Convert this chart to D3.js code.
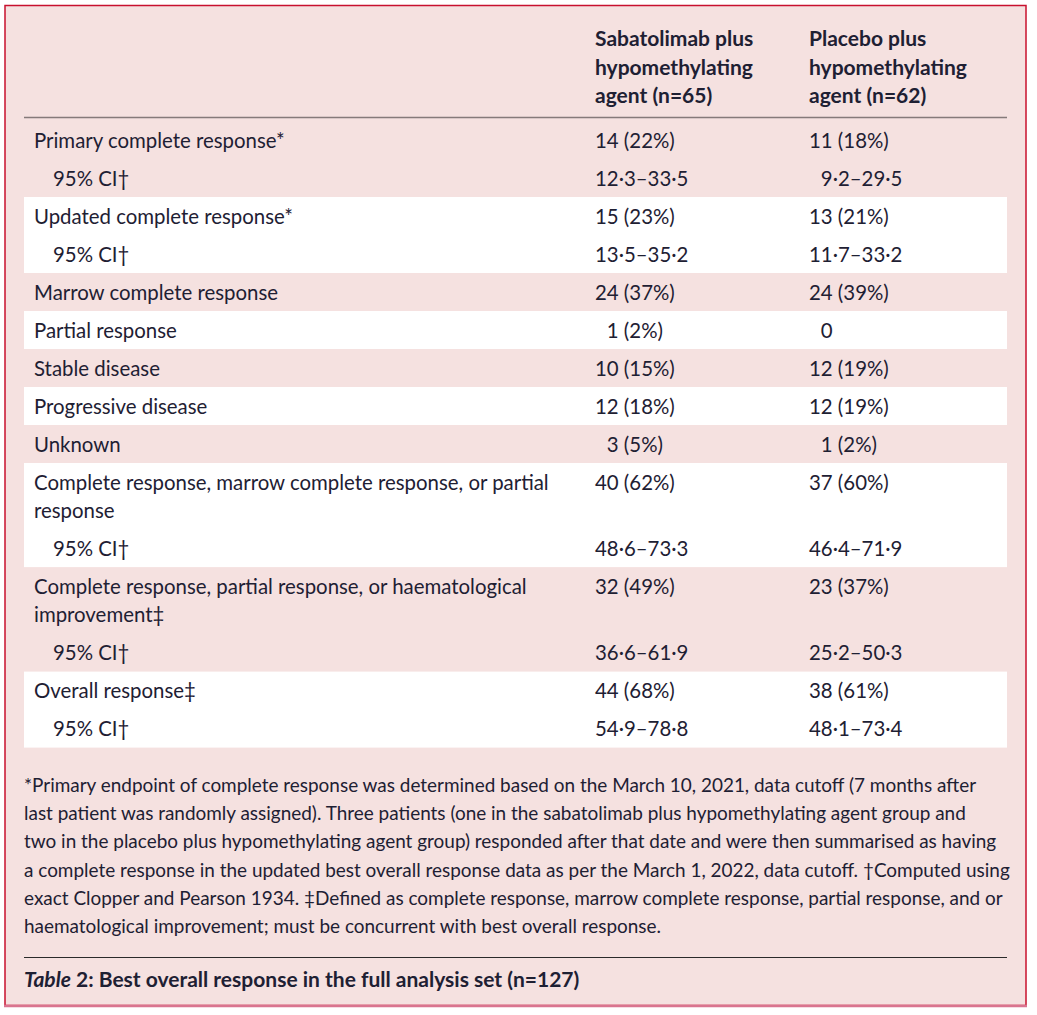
<!DOCTYPE html>
<html>
<head>
<meta charset="utf-8">
<script src="https://cdn.jsdelivr.net/npm/d3@7"></script>
<style>
html,body{margin:0;padding:0;background:#ffffff;}
svg{display:block;}
</style>
</head>
<body>
<svg id="chart" width="1037" height="1015"></svg>
<script>
// ---------- DATA ----------
const columnHeaders = [
  ["Sabatolimab plus", "hypomethylating", "agent (n=65)"],
  ["Placebo plus", "hypomethylating", "agent (n=62)"]
];
const rowLabels = [
  ["Primary complete response*"],
  ["95% CI†"],
  ["Updated complete response*"],
  ["95% CI†"],
  ["Marrow complete response"],
  ["Partial response"],
  ["Stable disease"],
  ["Progressive disease"],
  ["Unknown"],
  ["Complete response, marrow complete response, or partial", "response"],
  ["95% CI†"],
  ["Complete response, partial response, or haematological", "improvement‡"],
  ["95% CI†"],
  ["Overall response‡"],
  ["95% CI†"]
];
const rowIndent = [0,1,0,1,0,0,0,0,0,0,1,0,1,0,1];
const rowGroup  = [0,0,1,1,2,3,4,5,6,7,7,8,8,9,9];
const sabatolimabValues = ["14 (22%)","12·3–33·5","15 (23%)","13·5–35·2","24 (37%)","\u20071 (2%)","10 (15%)","12 (18%)","\u20073 (5%)","40 (62%)","48·6–73·3","32 (49%)","36·6–61·9","44 (68%)","54·9–78·8"];
const placeboValues     = ["11 (18%)","\u20079·2–29·5","13 (21%)","11·7–33·2","24 (39%)","\u20070","12 (19%)","12 (19%)","\u20071 (2%)","37 (60%)","46·4–71·9","23 (37%)","25·2–50·3","38 (61%)","48·1–73·4"];
const footnoteLines = [
  "*Primary endpoint of complete response was determined based on the March 10, 2021, data cutoff (7 months after",
  "last patient was randomly assigned). Three patients (one in the sabatolimab plus hypomethylating agent group and",
  "two in the placebo plus hypomethylating agent group) responded after that date and were then summarised as having",
  "a complete response in the updated best overall response data as per the March 1, 2022, data cutoff. †Computed using",
  "exact Clopper and Pearson 1934. ‡Defined as complete response, marrow complete response, partial response, and or",
  "haematological improvement; must be concurrent with best overall response."
];
const captionLabel = "Table";
const captionNumber = " 2:";
const captionText = " Best overall response in the full analysis set (n=127)";

// ---------- STYLE ----------
const FONT = "Lato, 'Noto Sans', sans-serif";
const TEXT = "#1e2033";
const PINK = "#f5e1e0";
const svg = d3.select("#chart");

// measure helper to fit font sizes to the reference widths
function measure(str, weight, style) {
  const t = svg.append("text").attr("font-family", FONT).attr("font-size", 100)
    .attr("font-weight", weight || "normal").attr("font-style", style || "normal").text(str);
  const w = t.node().getComputedTextLength();
  t.remove();
  return w;
}
const bodySize = Math.min(21, 100 * 515 / measure(rowLabels[9][0]));
const headSize = Math.min(21, 100 * 167 / measure("hypomethylating", "bold"));
const noteSize = Math.min(19, 100 * 953 / measure(footnoteLines[0]));
const capSize = Math.min(21, 100 * 556 / (measure(captionLabel, "bold", "italic") + measure(captionNumber + captionText, "bold")));

// ---------- FRAME ----------
svg.append("rect").attr("x", 5).attr("y", 5.5).attr("width", 1021).attr("height", 1000)
  .attr("fill", PINK).attr("stroke", "#c8102e").attr("stroke-width", 1.5);
svg.append("line").attr("x1", 4).attr("x2", 1027).attr("y1", 1006).attr("y2", 1006)
  .attr("stroke", "#d9748f").attr("stroke-width", 2.5);

// ---------- SCALES ----------
const tableLeft = 24, tableRight = 1007;
const x = d3.scaleOrdinal().domain(["label", "sabatolimab", "placebo"]).range([34, 595, 809]);
const indentPx = 19;

// vertical layout in row units
const headerLineY = 117.5;
const rowPitch = 38, wrapPitch = 28.3;
let cursor = headerLineY + 3.5;
const rows = rowLabels.map((lab, i) => {
  const h = rowPitch + wrapPitch * (lab.length - 1);
  const r = {i, top: cursor, height: h, label: lab, indent: rowIndent[i], group: rowGroup[i],
    sab: sabatolimabValues[i], pla: placeboValues[i]};
  cursor += h;
  return r;
});
// group bands
const groups = d3.groups(rows, d => d.group).map(([g, rs]) => ({
  g, top: g === 0 ? headerLineY + 0.5 : rs[0].top, bottom: rs[rs.length - 1].top + rs[rs.length - 1].height
}));
svg.append("g").selectAll("rect").data(groups).join("rect")
  .attr("x", tableLeft).attr("width", tableRight - tableLeft)
  .attr("y", d => d.top).attr("height", d => d.bottom - d.top)
  .attr("fill", d => d.g % 2 === 0 ? PINK : "#ffffff");

// header
const headerY = d3.scaleLinear().domain([0, 2]).range([46, 103]);
columnHeaders.forEach((lines, ci) => {
  svg.append("g").selectAll("text").data(lines).join("text")
    .attr("x", x(ci === 0 ? "sabatolimab" : "placebo"))
    .attr("y", (d, j) => headerY(j))
    .attr("font-family", FONT).attr("font-weight", "bold").attr("font-size", headSize)
    .attr("fill", TEXT).text(d => d);
});
svg.append("line").attr("x1", tableLeft).attr("x2", tableRight)
  .attr("y1", headerLineY).attr("y2", headerLineY)
  .attr("stroke", "#857a7a").attr("stroke-width", 1.5);

// rows
const baseOff = 26.5;
const rowG = svg.append("g").selectAll("g").data(rows).join("g")
  .attr("transform", d => `translate(0,${d.top + baseOff})`);
rowG.selectAll("text.lab").data(d => d.label.map(l => ({l, indent: d.indent}))).join("text")
  .attr("class", "lab")
  .attr("x", d => x("label") + (d.indent ? indentPx : 0))
  .attr("y", (d, j) => j * wrapPitch)
  .attr("font-family", FONT).attr("font-size", bodySize).attr("fill", TEXT)
  .text(d => d.l);
rowG.append("text").attr("x", x("sabatolimab")).attr("y", 0)
  .attr("font-family", FONT).attr("font-size", bodySize).attr("fill", TEXT)
  .style("font-variant-numeric", "tabular-nums").text(d => d.sab);
rowG.append("text").attr("x", x("placebo")).attr("y", 0)
  .attr("font-family", FONT).attr("font-size", bodySize).attr("fill", TEXT)
  .style("font-variant-numeric", "tabular-nums").text(d => d.pla);

// footnotes
const noteY = d3.scaleLinear().domain([0, 5]).range([792, 933]);
svg.append("g").selectAll("text").data(footnoteLines).join("text")
  .attr("x", tableLeft).attr("y", (d, i) => noteY(i))
  .attr("font-family", FONT).attr("font-size", noteSize).attr("fill", TEXT)
  .text(d => d);

// caption
svg.append("line").attr("x1", tableLeft).attr("x2", tableRight)
  .attr("y1", 957.5).attr("y2", 957.5).attr("stroke", "#2a2a2a").attr("stroke-width", 1.2);
const cap = svg.append("text").attr("x", tableLeft).attr("y", 987)
  .attr("font-family", FONT).attr("font-size", capSize).attr("font-weight", "bold").attr("fill", TEXT);
cap.append("tspan").attr("font-style", "italic").text(captionLabel);
cap.append("tspan").text(captionNumber);
cap.append("tspan").text(captionText);
</script>
</body>
</html>
